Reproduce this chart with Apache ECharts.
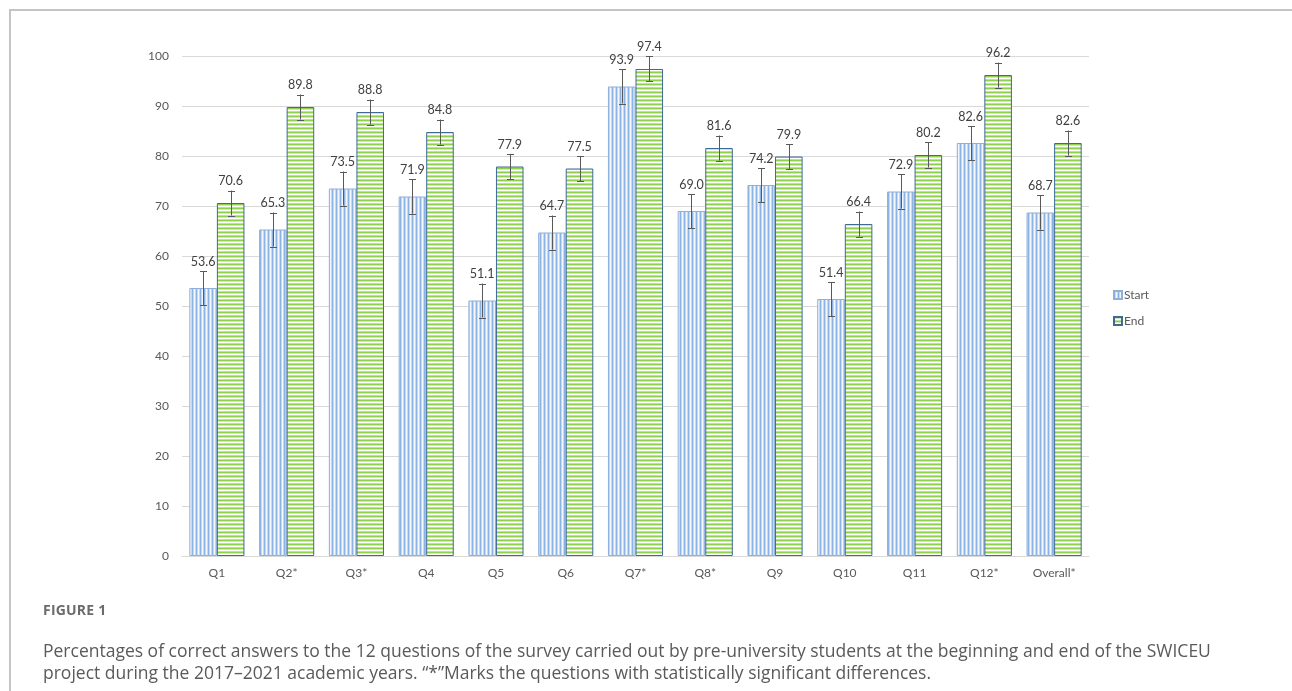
<!DOCTYPE html>
<html>
<head>
<meta charset="utf-8">
<script src="https://cdn.jsdelivr.net/npm/echarts@6/dist/echarts.min.js"></script>
<style>
  html, body { margin: 0; padding: 0; background: #ffffff; }
  #frame {
    position: absolute; left: 9px; top: 9px; width: 1290px; height: 690px;
    border-left: 2px solid #c4c4c4; border-top: 2px solid #c4c4c4;
  }
  #chart { position: absolute; left: 0; top: 0; width: 1292px; height: 691px; }
  #caption {
    position: absolute; left: 43px; top: 599px; width: 1240px;
    font-family: "Open Sans", "Lato", sans-serif; color: #5a5a5a;
  }
  #caption .fig { font-size: 14px; font-weight: 700; color: #6b6b6b; letter-spacing: 0.2px; line-height: 22px; }
  #caption .txt { margin-top: 18px; font-size: 17.5px; line-height: 22px; font-weight: 400; white-space: nowrap; }
</style>
</head>
<body>
<div id="frame"></div>
<div id="chart"></div>
<div id="caption">
  <div class="fig">FIGURE 1</div>
  <div class="txt">Percentages of correct answers to the 12 questions of the survey carried out by pre-university students at the beginning and end of the SWICEU<br>project during the 2017–2021 academic years. “*”Marks the questions with statistically significant differences.</div>
</div>
<script>
// Questions of the survey
const categories = ['Q1', 'Q2*', 'Q3*', 'Q4', 'Q5', 'Q6', 'Q7*', 'Q8*', 'Q9', 'Q10', 'Q11', 'Q12*', 'Overall*'];
// Percentage of correct answers at the start and at the end of the project
const startValues = [53.6, 65.3, 73.5, 71.9, 51.1, 64.7, 93.9, 69.0, 74.2, 51.4, 72.9, 82.6, 68.7];
const endValues   = [70.6, 89.8, 88.8, 84.8, 77.9, 77.5, 97.4, 81.6, 79.9, 66.4, 80.2, 96.2, 82.6];
// Error bar half-widths (standard error)
const startErrors = [3.4, 3.4, 3.4, 3.4, 3.4, 3.4, 3.4, 3.4, 3.4, 3.4, 3.4, 3.4, 3.4];
const endErrors   = [2.5, 2.5, 2.5, 2.5, 2.5, 2.5, 2.5, 2.5, 2.5, 2.5, 2.5, 2.5, 2.5];
const yTicks = [0, 10, 20, 30, 40, 50, 60, 70, 80, 90, 100];

const CAT_GAP = 0.21;
const TEXT = '#595959';
const FONT = 'Lato, "Open Sans", sans-serif';

// Striped fills for the two series
function stripePattern(colors, vertical) {
  const c = document.createElement('canvas');
  c.width = vertical ? colors.length : 4;
  c.height = vertical ? 4 : colors.length;
  const ctx = c.getContext('2d');
  colors.forEach((col, i) => {
    ctx.fillStyle = col;
    if (vertical) ctx.fillRect(i, 0, 1, 4);
    else ctx.fillRect(0, i, 4, 1);
  });
  return { image: c, repeat: 'repeat' };
}
const startFill = stripePattern(['#8db3e2', '#c6d9f1', '#f4f8fd', '#c6d9f1'], true);
const endFill = stripePattern(['#8fd04c', '#d2e9b3', '#ffffff', '#c2e197'], false);

// Error bars and value labels drawn over each bar
function errorSeries(values, errors, side) {
  return {
    type: 'custom',
    silent: true,
    z: 10,
    data: values.map((v, i) => [i, v, errors[i]]),
    encode: { x: 0, y: 1 },
    renderItem(params, api) {
      const i = api.value(0), v = api.value(1), e = api.value(2);
      const catW = api.size([1, 0])[0];
      const barW = catW * (1 - CAT_GAP) / 2;
      const cx = api.coord([i, v])[0] + side * barW / 2;
      const yTop = api.coord([i, v + e])[1];
      const yBot = api.coord([i, v - e])[1];
      const cap = 3.5;
      const style = { stroke: '#595959', lineWidth: 1 };
      const x = Math.round(cx) + 0.5;
      return {
        type: 'group',
        children: [
          { type: 'line', shape: { x1: x, y1: yTop, x2: x, y2: yBot }, style },
          { type: 'line', shape: { x1: x - cap, y1: Math.round(yTop) + 0.5, x2: x + cap, y2: Math.round(yTop) + 0.5 }, style },
          { type: 'line', shape: { x1: x - cap, y1: Math.round(yBot) + 0.5, x2: x + cap, y2: Math.round(yBot) + 0.5 }, style },
          {
            type: 'text',
            x: cx, y: yTop - 3,
            style: {
              text: v.toFixed(1), fill: '#404040', font: '12.5px ' + FONT,
              align: 'center', verticalAlign: 'bottom'
            }
          }
        ]
      };
    }
  };
}

const chart = echarts.init(document.getElementById('chart'), null, { renderer: 'canvas' });
chart.setOption({
  animation: false,
  backgroundColor: 'transparent',
  textStyle: { fontFamily: FONT },
  grid: { left: 182, right: 203, top: 56, bottom: 135, containLabel: false, outerBoundsMode: 'none' },
  legend: {
    data: ['Start', 'End'],
    orient: 'vertical',
    left: 1108, top: 284,
    itemWidth: 8, itemHeight: 8, itemGap: 14,
    icon: 'rect',
    textStyle: { color: TEXT, fontSize: 12, fontFamily: FONT, padding: [0, 0, 0, -3] }
  },
  xAxis: {
    type: 'category',
    data: categories,
    axisLine: { lineStyle: { color: '#d9d9d9', width: 1 } },
    axisTick: { show: false },
    axisLabel: { color: TEXT, fontSize: 12, margin: 11, interval: 0 },
    splitLine: { show: false }
  },
  yAxis: {
    type: 'value',
    min: yTicks[0], max: yTicks[yTicks.length - 1], interval: yTicks[1] - yTicks[0],
    axisLine: { show: false },
    axisTick: { show: false },
    axisLabel: { color: TEXT, fontSize: 12, margin: 13 },
    splitLine: { lineStyle: { color: '#d9d9d9', width: 1 } }
  },
  series: [
    {
      name: 'Start', type: 'bar', data: startValues,
      barGap: '0%', barCategoryGap: (CAT_GAP * 100) + '%',
      itemStyle: { color: startFill, borderColor: '#8fb0dc', borderWidth: 1 }
    },
    {
      name: 'End', type: 'bar', data: endValues,
      barGap: '0%', barCategoryGap: (CAT_GAP * 100) + '%',
      itemStyle: { color: endFill, borderColor: '#3e6a97', borderWidth: 1 }
    },
    errorSeries(startValues, startErrors, -1),
    errorSeries(endValues, endErrors, 1)
  ]
});
</script>
</body>
</html>
